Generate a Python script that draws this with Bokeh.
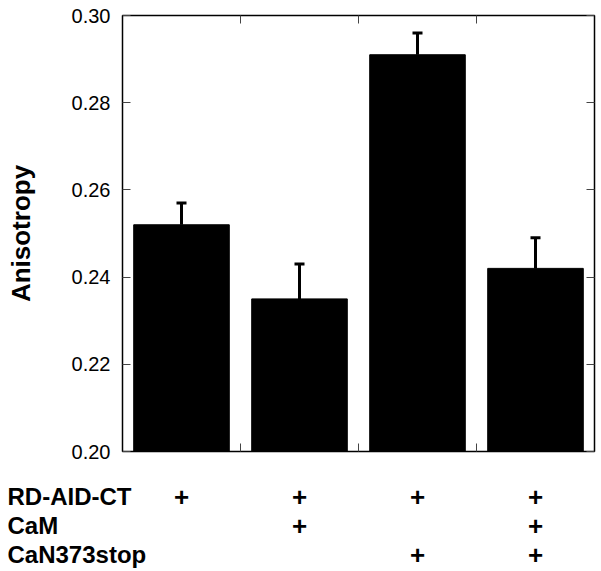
from bokeh.plotting import figure
from bokeh.models import (ColumnDataSource, Range1d, LinearAxis, FixedTicker,
                          Whisker, TeeHead, PrintfTickFormatter)
from bokeh.core.properties import value
from bokeh.embed import file_html
from bokeh.resources import INLINE

# ---- data ----
samples = ["1", "2", "3", "4"]
anisotropy = [0.252, 0.235, 0.291, 0.242]
sem = [0.005, 0.008, 0.005, 0.007]
y_ticks = [0.20, 0.22, 0.24, 0.26, 0.28, 0.30]
row_labels = ["RD-AID-CT", "CaM", "CaN373stop"]
rd_aid_ct = ["+", "+", "+", "+"]
cam = ["", "+", "", "+"]
can373stop = ["", "", "+", "+"]

FONT = "Liberation Sans"
n = len(samples)
xs = [i + 0.5 for i in range(n)]
upper = [a + e for a, e in zip(anisotropy, sem)]

FIG_W = 601
TOP_H = 466
B_L, B_R, B_T, B_B = 122, 7, 15, 15
FRAME_W = FIG_W - B_L - B_R

p = figure(width=FIG_W, height=TOP_H, output_backend="svg", toolbar_location=None,
           x_range=Range1d(0, n), y_range=Range1d(0.20, 0.30),
           min_border_left=B_L, min_border_right=B_R, min_border_top=B_T,
           min_border_bottom=B_B)
p.xgrid.visible = False
p.ygrid.visible = False
p.outline_line_color = "black"
p.outline_line_width = 1.5
p.background_fill_color = "white"
p.border_fill_color = "white"

src = ColumnDataSource(dict(x=xs, top=anisotropy, upper=upper))
p.vbar(x="x", top="top", bottom=0.20, width=0.81, source=src,
       fill_color="black", line_color="black")
p.add_layout(Whisker(base="x", lower="top", upper="upper", source=src,
                     dimension="height", line_width=3, line_color="black",
                     lower_head=None,
                     upper_head=TeeHead(size=10, line_width=3, line_color="black")))

sep_ticks = [i for i in range(1, n)]

def style_axis(ax, labels=False):
    ax.axis_line_color = None
    ax.major_tick_in = 8
    ax.major_tick_out = 0
    ax.minor_tick_line_color = None
    ax.major_tick_line_color = "#444444"
    ax.major_tick_line_width = 1
    if not labels:
        ax.major_label_overrides = {t: "" for t in ax.ticker.ticks}
        ax.major_label_text_font_size = "1px"
        ax.major_label_standoff = 0

xa = p.xaxis[0]
xa.ticker = FixedTicker(ticks=sep_ticks)
style_axis(xa)
ya = p.yaxis[0]
ya.ticker = FixedTicker(ticks=y_ticks)
ya.formatter = PrintfTickFormatter(format="%.2f")
style_axis(ya, labels=True)
ya.major_label_text_font = FONT
ya.major_label_text_font_size = "20px"
ya.major_label_text_color = "black"
ya.major_label_standoff = 12
ya.axis_label = "Anisotropy"
ya.axis_label_text_font = FONT
ya.axis_label_text_font_size = "26px"
ya.axis_label_text_font_style = "bold"
ya.axis_label_text_color = "black"
ya.axis_label_standoff = 33
ta = LinearAxis(ticker=FixedTicker(ticks=sep_ticks))
style_axis(ta)
p.add_layout(ta, "above")
ra = LinearAxis(ticker=FixedTicker(ticks=y_ticks))
style_axis(ra)
p.add_layout(ra, "right")

# ---- condition table (separate root, full-width frame) ----
TH = 571 - TOP_H
ROW0 = 496.0 - TOP_H
ROW_PX = 29.0
ppu = FRAME_W / n
x0 = -B_L / ppu
x1 = (FIG_W - B_L) / ppu
y_top = -ROW0 / ROW_PX
y_bot = (TH - ROW0) / ROW_PX

t = figure(width=FIG_W, height=TH, output_backend="svg", toolbar_location=None,
           x_range=Range1d(x0, x1), y_range=Range1d(y_bot, y_top),
           min_border=0, min_border_left=0, min_border_right=0,
           min_border_top=0, min_border_bottom=0,
           x_axis_location=None, y_axis_location=None)
t.xgrid.visible = False
t.ygrid.visible = False
t.outline_line_color = None
t.background_fill_color = "white"
t.border_fill_color = "white"

rows = [rd_aid_ct, cam, can373stop]
mx, my, mt = [], [], []
for r, marks in enumerate(rows):
    for c, m in enumerate(marks):
        if m:
            mx.append(xs[c]); my.append(r); mt.append(m)
t.text(x=mx, y=my, text=mt, text_align="center", text_baseline="middle",
       text_font=value(FONT), text_font_size="26px", text_font_style="bold",
       text_color="black")
t.text(x=[x0 + 7 / ppu] * len(row_labels), y=list(range(len(row_labels))),
       text=row_labels, text_align="left", text_baseline="middle",
       text_font=value(FONT), text_font_size="24px", text_font_style="bold",
       text_color="black")

open("out.html", "w").write(file_html([p, t], INLINE))
